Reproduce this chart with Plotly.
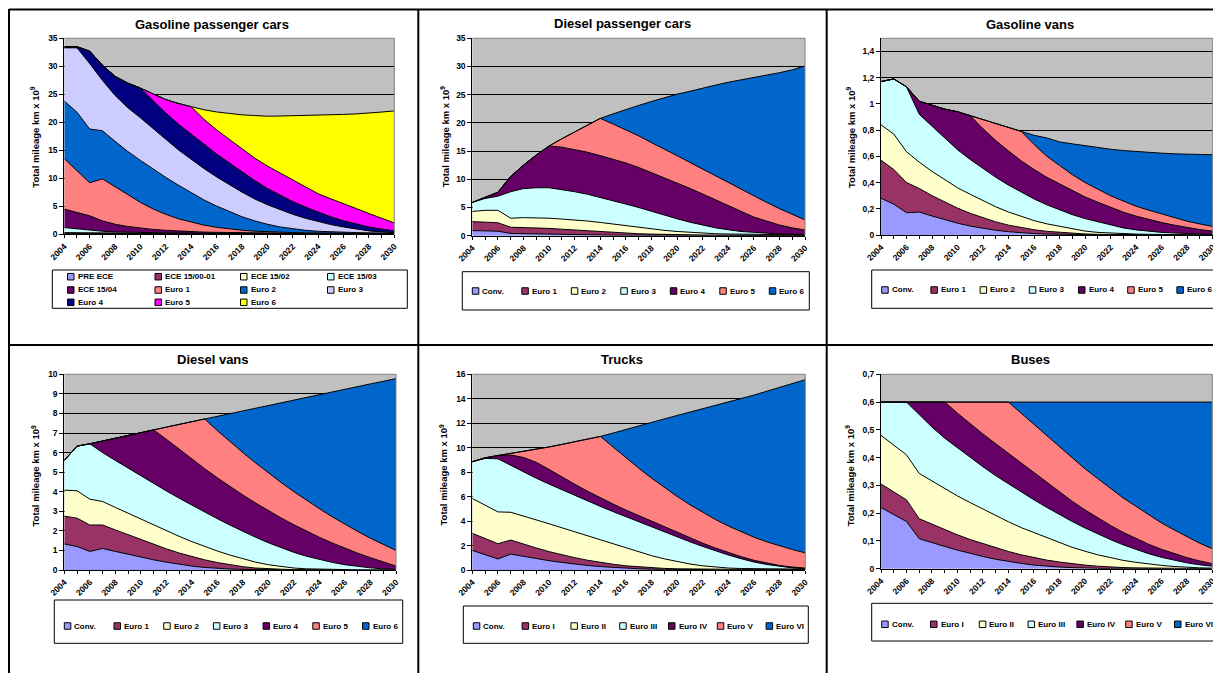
import plotly.graph_objects as go

# The page puts the figure 8 px in from the top-left corner, so the figure is
# sized to fill the rest of the 1221x673 window and all positions are shifted.
PAGE_W, PAGE_H, OFF = 1221, 673, 8
W, H = PAGE_W - OFF, PAGE_H - OFF
FONT = "Liberation Sans, Arial, sans-serif"

years = list(range(2004, 2031))
label_years = list(range(2004, 2031, 2))
label_text = [str(y) for y in label_years]

# ---------------- colours ----------------
C_CONV, C_E1, C_E2, C_E3, C_E4, C_E5, C_E6 = "#9999FF", "#993366", "#FFFFCC", "#CCFFFF", "#660066", "#FF8080", "#0066CC"
gpc_colors = ["#9999FF", "#993366", "#FFFFCC", "#CCFFFF", "#660066", "#FF8080",
              "#0066CC", "#CCCCFF", "#000080", "#FF00FF", "#FFFF00"]
std_colors = [C_CONV, C_E1, C_E2, C_E3, C_E4, C_E5, C_E6]

# ---------------- Gasoline passenger cars (km x 10^9) ----------------
gpc_names = ["PRE ECE", "ECE 15/00-01", "ECE 15/02", "ECE 15/03", "ECE 15/04", "Euro 1",
             "Euro 2", "Euro 3", "Euro 4", "Euro 5", "Euro 6"]
gpc_pre_ece = [0.10,0.10,0.09,0.09,0.08,0.08,0.08,0.07,0.07,0.07,0.06,0.06,0.06,0.06,0.05,0.05,0.05,0.05,0.05,0.04,0.04,0.04,0.04,0.04,0.04,0.04,0.04]
gpc_ece_00_01 = [0.08,0.07,0.07,0.06,0.06,0.05,0.05,0.05,0.05,0.04,0.04,0.04,0.04,0.04,0.04,0.04,0.03,0.03,0.03,0.03,0.03,0.03,0.03,0.03,0.03,0.03,0.03]
gpc_ece_02 = [0.12,0.10,0.09,0.08,0.07,0.07,0.06,0.06,0.06,0.05,0.05,0.05,0.05,0.05,0.05,0.04,0.04,0.04,0.04,0.04,0.04,0.04,0.04,0.04,0.04,0.04,0.04]
gpc_ece_03 = [0.90,0.68,0.50,0.32,0.21,0.15,0.11,0.09,0.08,0.07,0.06,0.05,0.05,0.04,0.04,0.03,0.03,0.03,0.02,0.02,0.02,0.02,0.02,0.01,0.01,0.01,0.01]
gpc_ece_04 = [3.30,2.95,2.55,1.85,1.38,1.05,0.80,0.60,0.45,0.33,0.25,0.19,0.15,0.12,0.10,0.08,0.07,0.06,0.05,0.04,0.04,0.03,0.03,0.03,0.02,0.02,0.02]
gpc_euro1 = [9.0,7.5,5.9,7.5,6.7,5.6,4.6,3.65,2.85,2.2,1.7,1.25,0.9,0.65,0.45,0.32,0.22,0.16,0.12,0.09,0.07,0.05,0.04,0.03,0.03,0.02,0.02]
gpc_euro2 = [10.3,10.4,9.6,8.6,8.1,7.8,7.5,7.1,6.6,6.0,5.3,4.5,3.8,3.1,2.4,1.85,1.35,0.95,0.65,0.45,0.30,0.22,0.16,0.12,0.09,0.07,0.05]
gpc_euro3 = [9.5,11.5,11.7,9.0,8.2,7.8,7.6,7.2,6.8,6.3,5.9,5.6,5.2,4.8,4.4,3.9,3.5,3.1,2.6,2.15,1.7,1.3,0.95,0.6,0.35,0.2,0.07]
gpc_euro4 = [0.2,0.2,2.2,2.7,3.4,4.4,5.3,5.0,4.7,4.6,4.5,4.3,4.1,3.9,3.6,3.3,2.9,2.6,2.3,2.0,1.7,1.4,1.1,0.9,0.7,0.5,0.35]
gpc_euro5 = [0,0,0,0,0,0,0,1.3,2.4,3.7,4.9,4.5,4.3,4.2,4.1,4.0,4.0,3.9,3.8,3.6,3.3,3.2,3.1,2.8,2.4,1.9,1.4]
gpc_euro6 = [0,0,0,0,0,0,0,0,0,0,0,1.7,3.2,4.6,6.1,7.6,8.9,10.2,11.5,12.7,14.0,15.0,15.9,16.9,17.9,19.0,20.0]

# ---------------- Diesel passenger cars ----------------
euro_names = ["Conv.", "Euro 1", "Euro 2", "Euro 3", "Euro 4", "Euro 5", "Euro 6"]
roman_names = ["Conv.", "Euro I", "Euro II", "Euro III", "Euro IV", "Euro V", "Euro VI"]
dpc_conv = [0.9,0.85,0.8,0.4,0.35,0.3,0.25,0.2,0.17,0.14,0.12,0.1,0.09,0.08,0.07,0.06,0.06,0.05,0.05,0.05,0.04,0.04,0.04,0.04,0.04,0.04,0.04]
dpc_euro1 = [1.6,1.55,1.5,1.1,1.1,1.1,1.05,0.95,0.83,0.71,0.58,0.45,0.36,0.27,0.21,0.16,0.12,0.1,0.08,0.07,0.07,0.06,0.06,0.06,0.06,0.06,0.06]
dpc_euro2 = [1.8,2.1,2.2,1.6,1.75,1.8,1.8,1.8,1.8,1.75,1.65,1.5,1.3,1.1,0.92,0.73,0.57,0.45,0.32,0.23,0.19,0.15,0.12,0.1,0.09,0.08,0.07]
dpc_euro3 = [1.6,2.1,2.5,4.7,5.15,5.3,5.4,5.25,5.0,4.75,4.45,4.15,3.85,3.55,3.1,2.65,2.25,1.8,1.45,1.05,0.75,0.5,0.38,0.2,0.11,0.07,0.03]
dpc_euro4 = [0,0.15,0.7,2.7,4.15,5.8,7.4,7.5,7.5,7.45,7.4,7.4,7.3,7.1,6.9,6.7,6.4,6.0,5.5,5.0,4.35,3.65,2.7,2.2,1.6,1.15,0.8]
dpc_euro5 = [0,0,0,0,0,0,0,1.5,3.1,4.8,6.6,6.2,5.9,5.6,5.3,5.1,4.8,4.6,4.4,4.2,4.0,3.8,3.7,3.3,2.9,2.4,1.8]
dpc_euro6 = [0,0,0,0,0,0,0,0,0,0,0,1.8,3.6,5.4,7.3,9.1,10.9,12.6,14.4,16.1,17.8,19.4,21.1,22.6,24.1,25.6,27.3]

# ---------------- Gasoline vans ----------------
gv_conv = [0.28,0.235,0.17,0.175,0.145,0.115,0.09,0.068,0.05,0.036,0.025,0.017,0.011,0.007,0.005,0.003,0.002,0.001,0.001,0,0,0,0,0,0,0,0]
gv_euro1 = [0.29,0.265,0.23,0.18,0.155,0.135,0.115,0.097,0.08,0.064,0.05,0.038,0.029,0.021,0.015,0.01,0.006,0.004,0.003,0.002,0.002,0.001,0.001,0.001,0,0,0]
gv_euro2 = [0.27,0.27,0.235,0.2,0.185,0.17,0.155,0.145,0.13,0.115,0.1,0.085,0.07,0.057,0.045,0.032,0.022,0.015,0.01,0.007,0.005,0.004,0.003,0.002,0.002,0.001,0.001]
gv_euro3 = [0.33,0.42,0.495,0.365,0.345,0.32,0.29,0.265,0.245,0.225,0.205,0.185,0.165,0.145,0.125,0.11,0.095,0.08,0.06,0.045,0.032,0.024,0.016,0.012,0.008,0.006,0.004]
gv_euro4 = [0,0,0,0.10,0.16,0.22,0.29,0.335,0.305,0.28,0.26,0.24,0.225,0.21,0.2,0.185,0.165,0.15,0.135,0.12,0.105,0.09,0.075,0.06,0.048,0.034,0.025]
gv_euro5 = [0,0,0,0,0,0,0,0,0.07,0.13,0.18,0.225,0.19,0.16,0.14,0.12,0.11,0.1,0.09,0.085,0.075,0.07,0.065,0.055,0.047,0.043,0.035]
gv_euro6 = [0,0,0,0,0,0,0,0,0,0,0,0,0.07,0.14,0.18,0.235,0.28,0.317,0.355,0.385,0.417,0.44,0.464,0.489,0.512,0.529,0.547]

# ---------------- Diesel vans ----------------
dv_conv = [1.33,1.2,0.95,1.1,0.95,0.8,0.66,0.52,0.4,0.29,0.2,0.13,0.08,0.05,0.03,0.02,0.01,0,0,0,0,0,0,0,0,0,0]
dv_euro1 = [1.42,1.45,1.35,1.2,1.1,1.0,0.89,0.78,0.68,0.58,0.48,0.39,0.3,0.21,0.14,0.08,0.05,0.04,0.02,0.01,0.01,0,0,0,0,0,0]
dv_euro2 = [1.33,1.4,1.32,1.2,1.15,1.1,1.05,1.0,0.92,0.85,0.77,0.68,0.59,0.5,0.4,0.3,0.21,0.13,0.08,0.05,0.03,0.03,0.02,0.01,0.01,0.01,0.01]
dv_euro3 = [1.52,2.28,2.83,2.5,2.4,2.3,2.21,2.12,2.04,1.95,1.86,1.76,1.65,1.53,1.4,1.27,1.12,0.96,0.8,0.64,0.49,0.36,0.25,0.17,0.1,0.05,0.02]
dv_euro4 = [0,0,0,0.6,1.14,1.68,2.21,2.74,2.64,2.5,2.36,2.22,2.09,1.97,1.86,1.75,1.64,1.53,1.41,1.28,1.14,0.99,0.84,0.68,0.52,0.35,0.17]
dv_euro5 = [0,0,0,0,0,0,0,0,0.62,1.27,1.91,2.54,2.41,2.29,2.17,2.05,1.93,1.81,1.69,1.57,1.46,1.34,1.22,1.11,0.99,0.89,0.8]
dv_euro6 = [0,0,0,0,0,0,0,0,0,0,0,0,0.73,1.44,2.13,2.79,3.44,4.07,4.68,5.27,5.82,6.37,6.9,7.4,7.89,8.34,8.78]

# ---------------- Trucks ----------------
tr_conv = [1.6,1.25,0.9,1.3,1.1,0.92,0.76,0.62,0.48,0.37,0.28,0.2,0.14,0.1,0.07,0.05,0.04,0.03,0.03,0.02,0.02,0.02,0.02,0.02,0.02,0.02,0.02]
tr_euro1 = [1.4,1.3,1.25,1.15,1.0,0.88,0.74,0.62,0.53,0.43,0.34,0.27,0.2,0.15,0.11,0.08,0.06,0.05,0.04,0.04,0.03,0.03,0.03,0.03,0.03,0.03,0.03]
tr_euro2 = [2.85,2.75,2.6,2.27,2.32,2.3,2.28,2.21,2.11,1.98,1.82,1.63,1.43,1.21,0.99,0.78,0.58,0.41,0.27,0.17,0.11,0.07,0.05,0.04,0.03,0.03,0.03]
tr_euro3 = [3.0,3.82,4.34,3.83,3.58,3.4,3.24,3.1,2.97,2.86,2.76,2.67,2.58,2.48,2.37,2.24,2.02,1.81,1.58,1.33,1.06,0.8,0.55,0.36,0.2,0.09,0.03]
tr_euro4 = [0,0.05,0.27,0.85,1.2,1.3,1.2,1.05,0.92,0.8,0.7,0.62,0.55,0.5,0.45,0.4,0.35,0.3,0.27,0.23,0.2,0.17,0.14,0.11,0.09,0.07,0.05]
tr_euro5 = [0,0,0,0.12,0.5,1.07,1.84,2.67,3.47,4.26,5.02,4.66,4.27,3.88,3.52,3.19,2.96,2.73,2.51,2.33,2.17,2.02,1.89,1.74,1.6,1.43,1.24]
tr_euro6 = [0,0,0,0,0,0,0,0,0,0,0,1.15,2.33,3.48,4.59,5.63,6.63,7.58,8.48,9.33,10.13,10.89,11.62,12.32,12.96,13.58,14.16]

# ---------------- Buses ----------------
bu_conv = [0.22,0.195,0.17,0.108,0.093,0.08,0.067,0.055,0.044,0.034,0.026,0.019,0.013,0.009,0.006,0.004,0.002,0.001,0,0,0,0,0,0,0,0,0]
bu_euro1 = [0.085,0.08,0.078,0.072,0.067,0.06,0.055,0.05,0.046,0.041,0.036,0.031,0.027,0.022,0.018,0.014,0.011,0.008,0.006,0.004,0.003,0.002,0.001,0.001,0.001,0.001,0.001]
bu_euro2 = [0.175,0.17,0.162,0.163,0.156,0.148,0.14,0.133,0.124,0.115,0.107,0.098,0.09,0.081,0.07,0.059,0.05,0.041,0.034,0.026,0.02,0.015,0.011,0.007,0.004,0.002,0.001]
bu_euro3 = [0.12,0.155,0.19,0.212,0.194,0.182,0.173,0.162,0.153,0.145,0.136,0.128,0.118,0.109,0.101,0.093,0.084,0.075,0.065,0.056,0.046,0.037,0.029,0.022,0.016,0.011,0.007]
bu_euro4 = [0,0,0,0.045,0.09,0.13,0.125,0.122,0.118,0.115,0.11,0.104,0.097,0.089,0.08,0.073,0.065,0.058,0.051,0.045,0.039,0.034,0.029,0.024,0.019,0.014,0.009]
bu_euro5 = [0,0,0,0,0,0,0.04,0.078,0.115,0.15,0.185,0.18,0.175,0.17,0.165,0.157,0.148,0.142,0.134,0.124,0.117,0.107,0.095,0.086,0.075,0.064,0.054]
bu_euro6 = [0,0,0,0,0,0,0,0,0,0,0,0.04,0.08,0.12,0.16,0.2,0.24,0.275,0.31,0.345,0.375,0.405,0.435,0.46,0.485,0.508,0.528]

# ---------------- panel definitions (layout in page pixels) ----------------
panels = [
    dict(title="Gasoline passenger cars", names=gpc_names, colors=gpc_colors,
         series=[gpc_pre_ece, gpc_ece_00_01, gpc_ece_02, gpc_ece_03, gpc_ece_04, gpc_euro1,
                 gpc_euro2, gpc_euro3, gpc_euro4, gpc_euro5, gpc_euro6],
         ymax=35, dtick=5, plot=(64.3, 38.3, 394.3, 234.3), title_xy=(212.3, 24), ytitle_xy=(35, 136.7),
         lbox=(52.3, 270, 407.3, 308.3), lgrid=dict(cols=[67.5, 155, 240.5, 327.5], rows=[276.7, 290, 302.3])),
    dict(title="Diesel passenger cars", names=euro_names, colors=std_colors,
         series=[dpc_conv, dpc_euro1, dpc_euro2, dpc_euro3, dpc_euro4, dpc_euro5, dpc_euro6],
         ymax=35, dtick=5, plot=(472.3, 38.3, 805, 235.7), title_xy=(622.3, 23.5), ytitle_xy=(444.5, 136.7),
         lbox=(462.3, 271.7, 809.3, 310), lrow=dict(x0=472.3, step=49.5, y=291)),
    dict(title="Gasoline vans", names=euro_names, colors=std_colors,
         series=[gv_conv, gv_euro1, gv_euro2, gv_euro3, gv_euro4, gv_euro5, gv_euro6],
         ymax=1.5, dtick=0.2, plot=(881, 38.3, 1212.7, 235), title_xy=(1030, 24), ytitle_xy=(851, 137),
         lbox=(871.7, 270, 1220, 308.3), lrow=dict(x0=881.7, step=49.2, y=290)),
    dict(title="Diesel vans", names=euro_names, colors=std_colors,
         series=[dv_conv, dv_euro1, dv_euro2, dv_euro3, dv_euro4, dv_euro5, dv_euro6],
         ymax=10, dtick=1, plot=(64.3, 374.3, 396, 570), title_xy=(213.3, 360), ytitle_xy=(35, 475.5),
         lbox=(54.3, 600, 402.7, 643.3), lrow=dict(x0=64.3, step=49.7, y=626)),
    dict(title="Trucks", names=roman_names, colors=std_colors,
         series=[tr_conv, tr_euro1, tr_euro2, tr_euro3, tr_euro4, tr_euro5, tr_euro6],
         ymax=16, dtick=2, plot=(472.3, 374.3, 805.3, 570), title_xy=(622.3, 359.5), ytitle_xy=(443.5, 475),
         lbox=(463.3, 606, 808.3, 643.3), lrow=dict(x0=473.3, step=48.8, y=626)),
    dict(title="Buses", names=roman_names, colors=std_colors,
         series=[bu_conv, bu_euro1, bu_euro2, bu_euro3, bu_euro4, bu_euro5, bu_euro6],
         ymax=0.7, dtick=0.1, plot=(881, 374.3, 1212.3, 568.7), title_xy=(1030, 359.5), ytitle_xy=(849.5, 475.8),
         lbox=(871.7, 603.3, 1220, 641), lrow=dict(x0=881.7, step=48.8, y=624.3)),
]


def fx(px):
    return (px - OFF) / W


def fy(py):
    return 1 - (py - OFF) / H


fig = go.Figure()
shapes = []
annotations = []
tickfont = dict(family=FONT, size=8.5, color="black", weight="bold")

for i, p in enumerate(panels, start=1):
    xa = "x" if i == 1 else f"x{i}"
    ya = "y" if i == 1 else f"y{i}"
    for name, vals, col in zip(p["names"], p["series"], p["colors"]):
        fig.add_trace(go.Scatter(
            x=years, y=vals, name=name, mode="lines", stackgroup=f"g{i}",
            line=dict(color="black", width=1), fillcolor=col,
            xaxis=xa, yaxis=ya, showlegend=False, hoverinfo="skip"))

    l, t, r, b = p["plot"]
    xkey = "xaxis" if i == 1 else f"xaxis{i}"
    ykey = "yaxis" if i == 1 else f"yaxis{i}"
    fig.layout[xkey] = dict(
        domain=[fx(l), fx(r)], anchor=ya, range=[2004, 2030], automargin=False,
        tickmode="array", tickvals=label_years, ticktext=label_text, tickangle=-45,
        ticks="outside", ticklen=3, tickwidth=1, tickcolor="black",
        minor=dict(tick0=2004, dtick=1, ticks="outside", ticklen=3, tickwidth=1,
                   tickcolor="black", showgrid=False),
        showline=True, linecolor="black", linewidth=1, showgrid=False, zeroline=False,
        tickfont=tickfont, fixedrange=True)
    fig.layout[ykey] = dict(
        domain=[fy(b), fy(t)], anchor=xa, range=[0, p["ymax"]], automargin=False,
        tickmode="linear", tick0=0, dtick=p["dtick"],
        ticks="outside", ticklen=4, tickwidth=1, tickcolor="black",
        showline=True, linecolor="black", linewidth=1,
        showgrid=True, gridcolor="black", gridwidth=1, zeroline=False,
        tickfont=tickfont, fixedrange=True)

    # plot-area frame (top and right edges)
    shapes.append(dict(type="line", xref="paper", yref="paper", x0=fx(l), x1=fx(r), y0=fy(t), y1=fy(t),
                       line=dict(color="#808080", width=1), layer="above"))
    shapes.append(dict(type="line", xref="paper", yref="paper", x0=fx(r), x1=fx(r), y0=fy(t), y1=fy(b),
                       line=dict(color="#808080", width=1), layer="above"))

    # titles
    tx, ty = p["title_xy"]
    annotations.append(dict(text=f"<b>{p['title']}</b>", x=fx(tx), y=fy(ty), xref="paper", yref="paper",
                            xanchor="center", yanchor="middle", showarrow=False,
                            font=dict(family=FONT, size=13, color="black")))
    yx, yy = p["ytitle_xy"]
    annotations.append(dict(text="<b>Total mileage km x 10<sup>9</sup></b>", x=fx(yx), y=fy(yy),
                            xref="paper", yref="paper", xanchor="center", yanchor="middle",
                            textangle=-90, showarrow=False,
                            font=dict(family=FONT, size=9.5, color="black")))

    # legend box
    bl, bt, br, bb = p["lbox"]
    shapes.append(dict(type="rect", xref="paper", yref="paper", x0=fx(bl), x1=fx(br), y0=fy(bb), y1=fy(bt),
                       fillcolor="white", line=dict(color="black", width=1), layer="above"))
    positions = []
    if "lgrid" in p:
        cols, rows = p["lgrid"]["cols"], p["lgrid"]["rows"]
        for k in range(len(p["names"])):
            positions.append((cols[k % len(cols)], rows[k // len(cols)]))
    else:
        lr = p["lrow"]
        for k in range(len(p["names"])):
            positions.append((lr["x0"] + k * lr["step"], lr["y"]))
    sq = 6.5
    for (sx, sy), name, col in zip(positions, p["names"], p["colors"]):
        shapes.append(dict(type="rect", xref="paper", yref="paper",
                           x0=fx(sx), x1=fx(sx + sq), y0=fy(sy + sq / 2), y1=fy(sy - sq / 2),
                           fillcolor=col, line=dict(color="black", width=1), layer="above"))
        annotations.append(dict(text=f"<b>{name}</b>", x=fx(sx + sq + 1.5), y=fy(sy), xref="paper", yref="paper",
                                xanchor="left", yanchor="middle", showarrow=False,
                                font=dict(family=FONT, size=8, color="black")))

# table grid lines (page pixels)
grid_lines = [
    (9, 9.5, 1221, 9.5),      # top
    (9, 9, 9, 673),           # left
    (418.3, 9, 418.3, 673),
    (826.7, 9, 826.7, 673),
    (9, 345, 1221, 345),
]
for x0, y0, x1, y1 in grid_lines:
    shapes.append(dict(type="line", xref="paper", yref="paper", x0=fx(x0), x1=fx(x1), y0=fy(y0), y1=fy(y1),
                       line=dict(color="black", width=2), layer="above"))

fig.update_layout(
    width=W, height=H, autosize=False,
    margin=dict(l=0, r=0, t=0, b=0, pad=0, autoexpand=False),
    paper_bgcolor="white", plot_bgcolor="#C0C0C0",
    separators=",.", showlegend=False, hovermode=False,
    font=dict(family=FONT, color="black"),
    shapes=shapes, annotations=annotations,
)

fig.write_html("out.html")
